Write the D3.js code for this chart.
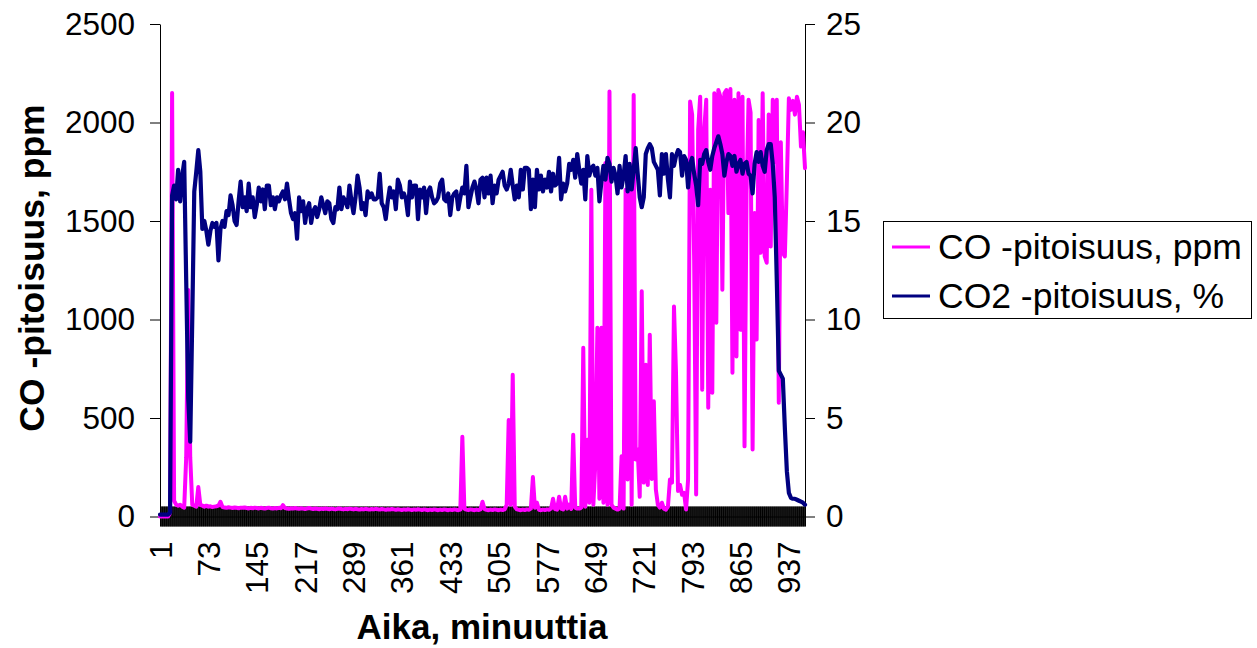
<!DOCTYPE html>
<html><head><meta charset="utf-8">
<script src="https://cdn.jsdelivr.net/npm/d3@7"></script>
<style>
body{margin:0;background:#fff}
svg{display:block}
text{font-family:"Liberation Sans", Arial, sans-serif;fill:#000}
</style>
</head><body>
<svg id="c" width="1257" height="648"></svg>
<script>
// sample times (minutes), one reading every 3 minutes
const minutes = d3.range(1, 962, 3);
// every minute is a category on the axis
const allMinutes = d3.range(1, 962);
const xTickLabels = [1,73,145,217,289,361,433,505,577,649,721,793,865,937];
const leftTicks = [0,500,1000,1500,2000,2500];
const rightTicks = [0,5,10,15,20,25];
const seriesNames = ["CO -pitoisuus, ppm", "CO2 -pitoisuus, %"];
const seriesColors = ["#FF00FF", "#000080"];

const coPpm = [
0,0,0,0,0,20,
2150,80,60,55,60,50,45,300,1150,300,60,55,50,150,60,55,50,55,50,52,48,50,52,55,75,
48,46,44,47,45,43,46,44,42,45,
44,46,43,41,44,42,45,43,41,44,
42,40,43,45,42,40,43,41,44,42,
58,43,41,39,42,40,43,41,39,42,
40,38,41,43,40,38,41,39,37,40,
38,41,39,37,40,38,36,39,41,38,
36,39,37,40,38,36,39,37,35,38,
36,39,37,35,38,36,39,37,35,38,
36,34,37,35,38,36,34,37,35,33,
36,34,37,35,33,36,34,37,35,33,
36,34,32,35,33,36,34,32,35,33,
36,34,32,35,33,36,34,32,35,
405,40,35,33,36,34,32,35,33,36,
75,38,34,32,35,33,36,34,32,35,33,36,60,
490,60,720,50,36,34,32,35,33,36,34,40,
200,45,70,34,32,35,33,36,34,40,
90,38,35,100,40,36,100,40,60,38,
415,45,40,40,45,857,50,390,70,1658,
60,274,958,90,958,70,1795,60,2157,60,
45,40,35,40,306,40,1658,188,1709,60,
2140,289,340,100,1143,172,770,160,923,190,
585,137,60,45,70,40,35,50,188,172,
1066,730,130,160,110,120,35,188,2106,2040,
1303,112,1962,2131,644,1962,2115,552,1658,628,
2148,983,2165,2131,1151,2148,2165,1540,2170,730,
2115,812,2148,948,2131,356,1641,2115,2050,340,
1540,898,2013,1339,2148,1320,1288,2040,1371,2115,
1800,2115,578,1900,1339,1320,1700,2123,2064,2110,
2040,2131,2090,1878,1950,1768
];

const co2Pct = [
0.1,0.1,0.1,0.1,0.1,0.2,16.3,16.8,16.1,17.6,
16.0,17.3,18.0,12.0,6.0,3.8,10.0,16.5,17.5,18.6,
17.5,14.6,15.0,14.5,13.8,14.5,14.9,14.7,14.9,13.0,
14.6,15.0,14.7,15.5,15.3,16.3,15.8,15.0,14.8,16.0,
17.0,15.7,16.2,15.5,16.9,15.7,16.2,15.2,15.8,16.7,
16.0,16.6,15.6,16.8,16.8,15.8,16.2,15.6,16.2,16.0,
16.3,16.5,16.1,16.9,16.1,15.4,15.1,15.4,14.1,16.2,
15.5,16.0,14.9,15.6,15.9,14.9,15.5,15.7,15.2,15.6,
16.2,15.8,15.4,16.0,15.9,15.1,14.9,15.7,15.6,16.7,
15.6,16.2,16.0,15.7,16.8,16.0,15.4,16.2,17.3,16.7,
15.6,15.9,15.3,16.5,16.2,16.4,16.1,
16.1,16.2,17.4,15.9,15.7,15.1,16.0,16.7,16.2,16.5,
15.6,17.1,16.8,16.2,16.4,16.1,15.3,17.0,16.2,16.8,
16.8,15.1,16.6,16.2,16.7,15.4,16.5,16.7,16.2,15.9,
16.0,16.2,16.9,17.1,16.1,16.0,16.4,15.3,16.2,16.4,
16.5,15.6,16.2,16.7,16.4,17.8,15.7,16.2,16.7,17.0,
16.6,15.9,17.1,17.2,16.2,17.2,16.4,17.3,15.9,16.8,
16.4,17.1,17.3,17.5,16.8,16.6,16.9,17.6,16.8,16.1,
16.8,16.2,17.6,16.6,17.7,17.7,17.6,15.6,17.1,15.7,
17.6,16.6,17.3,16.5,17.1,16.7,17.5,16.5,17.4,16.8,
16.9,18.2,16.1,16.9,16.5,16.9,17.9,17.6,18.1,17.2,
18.4,17.6,16.9,17.6,16.1,18.3,17.3,17.7,
17.8,17.3,17.7,16.0,17.0,17.8,17.1,18.2,17.9,17.0,
17.7,17.3,16.4,17.8,16.7,17.3,18.3,16.5,17.9,16.6,
17.6,18.7,17.4,16.2,15.7,16.2,18.4,18.7,18.9,18.7,
18.0,17.8,17.6,16.3,18.4,17.4,18.4,17.1,16.2,18.4,
17.8,18.3,18.6,18.5,17.3,18.3,18.1,16.7,17.9,18.2,
17.4,16.8,15.8,18.1,17.9,18.4,18.6,18.0,17.6,18.3,
18.7,19.0,19.3,18.9,18.4,17.3,18.0,18.4,18.3,17.8,
18.3,17.5,17.9,18.1,17.4,17.9,18.0,17.4,17.3,16.4,
17.9,18.5,18.0,18.5,17.8,17.5,18.6,18.9,18.9,17.9,
16.2,
12.0,7.4,7.2,7.0,4.5,2.3,1.2,0.95,0.9,0.9,0.85,0.8,0.75,0.7,0.6
];

const svg = d3.select("#c");
const L = 160, R = 805, T = 24, B = 516.5;
const x = d3.scaleLinear().domain([1, 961]).range([L, R]);
const yL = d3.scaleLinear().domain([0, 2500]).range([B, T]);
const yR = d3.scaleLinear().domain([0, 25]).range([B, T]);
const FS = 31.5;

// dense category tick marks (cross)
const gx = svg.append("g").attr("transform", `translate(0,${B})`)
  .call(d3.axisBottom(x).tickValues(allMinutes).tickSize(10).tickSizeOuter(0).tickFormat(""));
gx.selectAll(".tick line").attr("y1", -10).attr("stroke", "#000");
gx.select(".domain").attr("stroke", "#000");

// category labels
const gxl = svg.append("g").attr("transform", `translate(0,${B})`)
  .call(d3.axisBottom(x).tickValues(xTickLabels).tickSize(0).tickFormat(d3.format("d")));
gxl.select(".domain").remove();
gxl.selectAll("text")
  .attr("transform", "rotate(-90)")
  .attr("text-anchor", "end")
  .attr("x", -25).attr("y", 0).attr("dy", "0.35em")
  .attr("font-size", FS).attr("font-family", "Liberation Sans, Arial, sans-serif");

// left axis
const gl = svg.append("g").attr("transform", `translate(${L},0)`)
  .call(d3.axisLeft(yL).tickValues(leftTicks).tickSize(10).tickSizeOuter(0).tickPadding(15).tickFormat(d3.format("d")));
gl.selectAll("text").attr("font-size", FS).attr("font-family", "Liberation Sans, Arial, sans-serif");
gl.selectAll("line,path").attr("stroke", "#000");

// right axis
const gr = svg.append("g").attr("transform", `translate(${R},0)`)
  .call(d3.axisRight(yR).tickValues(rightTicks).tickSize(10).tickSizeOuter(0).tickPadding(11).tickFormat(d3.format("d")));
gr.selectAll("text").attr("font-size", FS).attr("font-family", "Liberation Sans, Arial, sans-serif");
gr.selectAll("line,path").attr("stroke", "#000");

// series lines
const lineCO = d3.line().x((d, i) => x(minutes[i])).y(d => yL(d));
const lineCO2 = d3.line().x((d, i) => x(minutes[i])).y(d => yR(d));
svg.append("path").datum(coPpm).attr("d", lineCO)
  .attr("fill", "none").attr("stroke", seriesColors[0]).attr("stroke-width", 4)
  .attr("stroke-linejoin", "round").attr("stroke-linecap", "round");
svg.append("path").datum(co2Pct).attr("d", lineCO2)
  .attr("fill", "none").attr("stroke", seriesColors[1]).attr("stroke-width", 4.2)
  .attr("stroke-linejoin", "round").attr("stroke-linecap", "round");

// axis titles
svg.append("text").attr("transform", "translate(44,268) rotate(-90)")
  .attr("text-anchor", "middle").attr("font-weight", "bold").attr("font-size", 35.5)
  .text("CO -pitoisuus, ppm");
svg.append("text").attr("x", 482).attr("y", 639)
  .attr("text-anchor", "middle").attr("font-weight", "bold").attr("font-size", 35)
  .text("Aika, minuuttia");

// legend
const lg = svg.append("g");
lg.append("rect").attr("x", 883.5).attr("y", 221.5).attr("width", 368).attr("height", 97)
  .attr("fill", "#fff").attr("stroke", "#000").attr("stroke-width", 1);
const rows = [247, 296];
seriesNames.forEach((n, i) => {
  lg.append("line").attr("x1", 892).attr("x2", 930).attr("y1", rows[i]).attr("y2", rows[i])
    .attr("stroke", seriesColors[i]).attr("stroke-width", 3.2);
  lg.append("text").attr("x", 938).attr("y", rows[i]).attr("dy", "0.35em")
    .attr("font-size", 35.5).text(n);
});
</script>
</body></html>
